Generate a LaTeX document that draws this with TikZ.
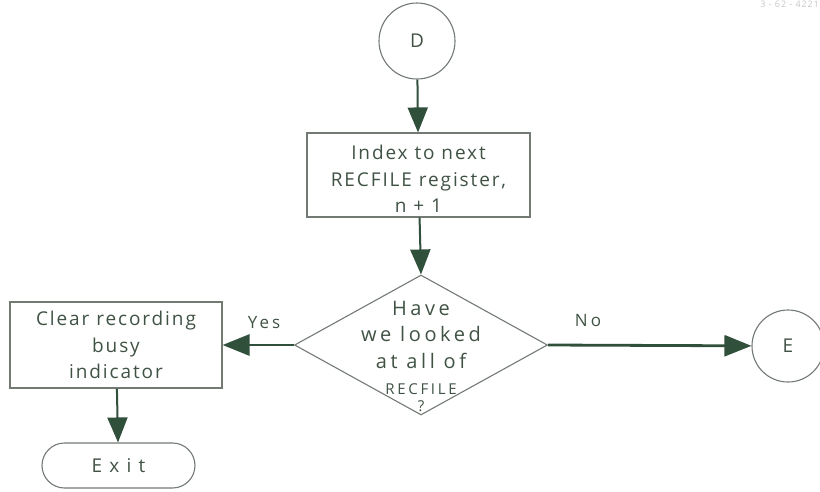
\documentclass[tikz,border=0pt]{standalone}
\usepackage{fontspec}
\setmainfont{Open Sans}[LetterSpace=10]
\newfontfamily\handwide{Open Sans}[LetterSpace=38]
\newfontfamily\handmid{Open Sans}[LetterSpace=18]
\usetikzlibrary{arrows.meta,shapes.geometric,shapes.misc}
\definecolor{ink}{HTML}{3F5244}
\definecolor{edge}{HTML}{737A74}
\definecolor{flow}{HTML}{30503C}
\tikzset{
  every node/.style={text=ink},
  conn/.style={draw=edge, line width=1.1pt, circle, inner sep=0pt, font=\fontsize{19}{22}\selectfont},
  procbox/.style={draw=edge, line width=1.1pt, rectangle, inner sep=0pt, align=center, font=\fontsize{19}{26.5}\selectfont},
  decision/.style={draw=edge, line width=1.1pt, diamond, inner sep=0pt},
  term/.style={draw=edge, line width=1.1pt, rounded rectangle, inner sep=0pt, font=\handwide\fontsize{19}{22}\selectfont},
  flowline/.style={draw=flow, line width=2.8pt, -{Triangle[length=27pt,width=21pt]}},
  thinflow/.style={draw=flow, line width=2pt, -{Triangle[length=25pt,width=20pt]}},
  lbl/.style={font=\handmid\fontsize{17}{20}\selectfont}
}
\begin{document}
\begin{tikzpicture}[x=1pt,y=-1pt]
\useasboundingbox (0,0) rectangle (820,491);
% figure number at the top edge
\node[text=black!22, font=\fontsize{9}{10}\selectfont, anchor=north east, inner sep=1pt] (fig) at (820,0) {3 - 62 - 4221};

% connectors
\node[conn, minimum size=76pt] (D) at (417,41) {D};
\node[conn, minimum size=72pt] (E) at (788,346) {E};

% process boxes
\node[procbox, minimum width=223pt, minimum height=84pt] (idx) at (418.5,175) {};
\node[align=center, font=\fontsize{19}{26.5}\selectfont] (idxt) at (418.5,179)
  {Index to next\\RECFILE register,\\n + 1};
\node[procbox, minimum width=212pt, minimum height=86pt] (clr) at (116,345)
  {Clear recording\\busy\\indicator};

% decision
\node[decision, minimum width=253pt, minimum height=140pt] (q) at (421,345) {};
\node[align=center, font=\handmid\fontsize{20}{26.5}\selectfont] (qt) at (421,356)
  {Have\\we looked\\at all of\\{\fontsize{15}{20}\selectfont RECFILE}\\[-10pt]{\fontsize{15}{16}\selectfont ?}};

% terminal
\node[term, minimum width=153pt, minimum height=45pt] (exit) at (118.5,465.5) {Exit};

% flow
\draw[thinflow] (D) -- (idx);
\draw[thinflow] (idx) -- (q.north);
\draw[flowline] (q.west) -- (clr.east);
\draw[flowline] (q.east) -- (E);
\draw[thinflow] (clr) -- (exit);

% branch labels
\node[lbl] (yes) at (264,323) {Yes};
\node[lbl] (no) at (588,321) {No};
\end{tikzpicture}
\end{document}
